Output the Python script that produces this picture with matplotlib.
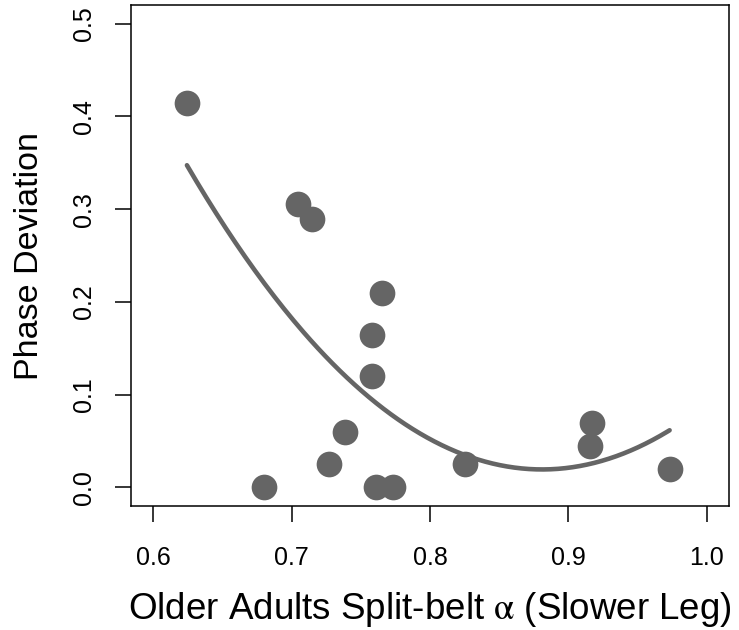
import numpy as np
import matplotlib
matplotlib.use('Agg')
import matplotlib.pyplot as plt

plt.rcParams['font.family'] = ['Liberation Sans', 'DejaVu Sans']
plt.rcParams['mathtext.fontset'] = 'stix'

# values
alpha_slow = [0.6244, 0.680, 0.705, 0.7147, 0.7267, 0.7383, 0.7578, 0.758,
              0.765, 0.7608, 0.7731, 0.825, 0.9169, 0.9156, 0.9731]
phase_dev = [0.4147, 0.0, 0.305, 0.2896, 0.0248, 0.0597, 0.120, 0.1647,
             0.2097, 0.0, 0.0, 0.0248, 0.0698, 0.045, 0.0198]
# quadratic fit drawn in the figure, vertex form: a * (x - h)^2 + k
fit_a, fit_h, fit_k = 4.98, 0.881, 0.0194

x_ticks = [0.6, 0.7, 0.8, 0.9, 1.0]
y_ticks = [0.0, 0.1, 0.2, 0.3, 0.4, 0.5]

grey = '#656565'

fig = plt.figure(figsize=(7.39, 6.30), dpi=100)
ax = fig.add_axes([131 / 739, 1 - 506 / 630, 598 / 739, 501 / 630])

xs = np.linspace(min(alpha_slow), max(alpha_slow), 200)
ax.plot(xs, fit_a * (xs - fit_h) ** 2 + fit_k, color=grey, lw=3.3,
        solid_capstyle='round', zorder=2)
ax.plot(alpha_slow, phase_dev, 'o', ms=18.5, color=grey, mec='none', zorder=3)

ax.set_xlim(0.584, 1.016)
ax.set_ylim(-0.02, 0.52)
ax.set_xticks(x_ticks)
ax.set_xticklabels([f'{t:.1f}' for t in x_ticks])
ax.set_yticks(y_ticks)
ax.set_yticklabels([f'{t:.1f}' for t in y_ticks])

for s in ax.spines.values():
    s.set_linewidth(1.1)
ax.tick_params(axis='both', length=11.5, width=1.1, labelsize=18, pad=17)
ax.tick_params(axis='y', labelrotation=90, pad=14)
for lab in ax.get_yticklabels():
    lab.set_va('center')

ax.set_xlabel(r'Older Adults Split-belt $\mathrm{\alpha}$ (Slower Leg)', fontsize=26.5, labelpad=15)
ax.set_ylabel('Phase Deviation', fontsize=24.5, labelpad=19)

fig.savefig('out.png', dpi=100)
